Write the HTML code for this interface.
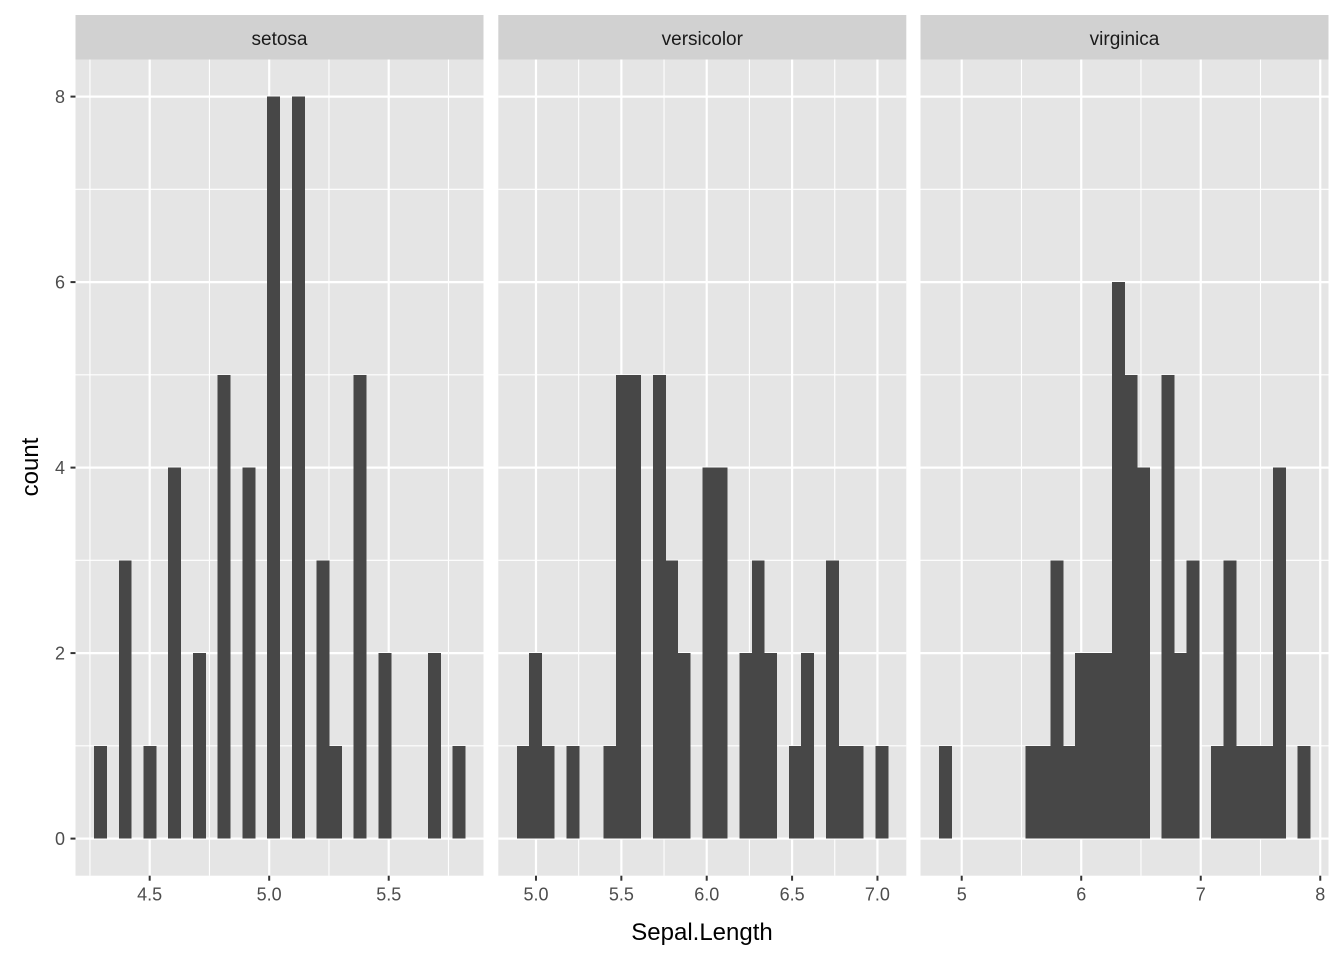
<!DOCTYPE html>
<html><head><meta charset="utf-8"><style>body{margin:0;background:#fff}svg{display:block}text{font-family:"Liberation Sans",Arial,sans-serif}</style></head>
<body>
<svg id="s" width="1344" height="960" xmlns="http://www.w3.org/2000/svg"></svg>
<script>
var S=document.getElementById('s'),h='';
var top0=59.5,bot=875.7,ys=(bot-top0)/8.8;
function Y(v){return bot-(v+0.4)*ys;}
var panels=[
 {name:'setosa',L:75.5,R:483.5,min:4.3,max:5.8,maj:[4.5,5,5.5],lab:['4.5','5.0','5.5'],
  d:{4.3:1,4.4:3,4.5:1,4.6:4,4.7:2,4.8:5,4.9:4,5.0:8,5.1:8,5.2:3,5.3:1,5.4:5,5.5:2,5.7:2,5.8:1}},
 {name:'versicolor',L:498.3,R:906.3,min:4.9,max:7.0,maj:[5,5.5,6,6.5,7],lab:['5.0','5.5','6.0','6.5','7.0'],
  d:{4.9:1,5.0:2,5.1:1,5.2:1,5.4:1,5.5:5,5.6:5,5.7:5,5.8:3,5.9:2,6.0:4,6.1:4,6.2:2,6.3:3,6.4:2,6.5:1,6.6:2,6.7:3,6.8:1,6.9:1,7.0:1}},
 {name:'virginica',L:920.5,R:1328.5,min:4.9,max:7.9,maj:[5,6,7,8],lab:['5','6','7','8'],
  d:{4.9:1,5.6:1,5.7:1,5.8:3,5.9:1,6.0:2,6.1:2,6.2:2,6.3:6,6.4:5,6.5:4,6.7:5,6.8:2,6.9:3,7.1:1,7.2:3,7.3:1,7.4:1,7.6:1,7.7:4,7.9:1}}
];
panels.forEach(function(p){
 var w=(p.max-p.min)/29, origin=w/2+Math.floor((p.min-w/2)/w+1e-9)*w;
 var n=Math.ceil((p.max-origin)/w-1e-9), end=origin+n*w, span=end-origin;
 var xmin=origin-0.05*span, xmax=end+0.05*span, sc=(p.R-p.L)/(xmax-xmin);
 function X(v){return p.L+(v-xmin)*sc;}
 h+='<rect x="'+p.L+'" y="15" width="'+(p.R-p.L)+'" height="'+(top0-15)+'" fill="#d1d1d1"/>';
 h+='<text x="'+((p.L+p.R)/2)+'" y="45" text-anchor="middle" font-size="19" fill="#1a1a1a">'+p.name+'</text>';
 h+='<rect x="'+p.L+'" y="'+top0+'" width="'+(p.R-p.L)+'" height="'+(bot-top0)+'" fill="#e5e5e5"/>';
 [1,3,5,7].forEach(function(v){h+='<line x1="'+p.L+'" x2="'+p.R+'" y1="'+Y(v)+'" y2="'+Y(v)+'" stroke="#fff" stroke-width="1.1"/>';});
 var step=p.maj[1]-p.maj[0];
 for(var m=p.maj[0]-step/2;m<xmax;m+=step){if(m>xmin)h+='<line y1="'+top0+'" y2="'+bot+'" x1="'+X(m)+'" x2="'+X(m)+'" stroke="#fff" stroke-width="1.1"/>';}
 [0,2,4,6,8].forEach(function(v){h+='<line x1="'+p.L+'" x2="'+p.R+'" y1="'+Y(v)+'" y2="'+Y(v)+'" stroke="#fff" stroke-width="2.2"/>';});
 p.maj.forEach(function(v,i){var x=X(v);h+='<line y1="'+top0+'" y2="'+bot+'" x1="'+x+'" x2="'+x+'" stroke="#fff" stroke-width="2.2"/>';
  h+='<line y1="'+bot+'" y2="'+(bot+5)+'" x1="'+x+'" x2="'+x+'" stroke="#333" stroke-width="2"/>';
  h+='<text x="'+x+'" y="'+(bot+25)+'" text-anchor="middle" font-size="18" fill="#4d4d4d">'+p.lab[i]+'</text>';});
 var c=[];for(var i=0;i<n;i++)c.push(0);
 for(var k in p.d){var b=Math.floor((parseFloat(k)-origin)/w+1e-9);if(b>=n)b=n-1;c[b]+=p.d[k];}
 for(var i=0;i<n;i++)if(c[i]>0){var x0=X(origin+i*w),x1=X(origin+(i+1)*w);
  h+='<rect shape-rendering="crispEdges" x="'+x0+'" y="'+Y(c[i])+'" width="'+(x1-x0+0.6)+'" height="'+(Y(0)-Y(c[i]))+'" fill="#474747"/>';}
});
[0,2,4,6,8].forEach(function(v){h+='<line x1="70.5" x2="75.5" y1="'+Y(v)+'" y2="'+Y(v)+'" stroke="#333" stroke-width="2"/>';
 h+='<text x="65" y="'+(Y(v)+6.5)+'" text-anchor="end" font-size="18" fill="#4d4d4d">'+v+'</text>';});
h+='<text x="702" y="940" text-anchor="middle" font-size="24" fill="#000">Sepal.Length</text>';
h+='<text transform="translate(38,467) rotate(-90)" text-anchor="middle" font-size="24" fill="#000">count</text>';
S.innerHTML=h;
</script>
</body></html>
